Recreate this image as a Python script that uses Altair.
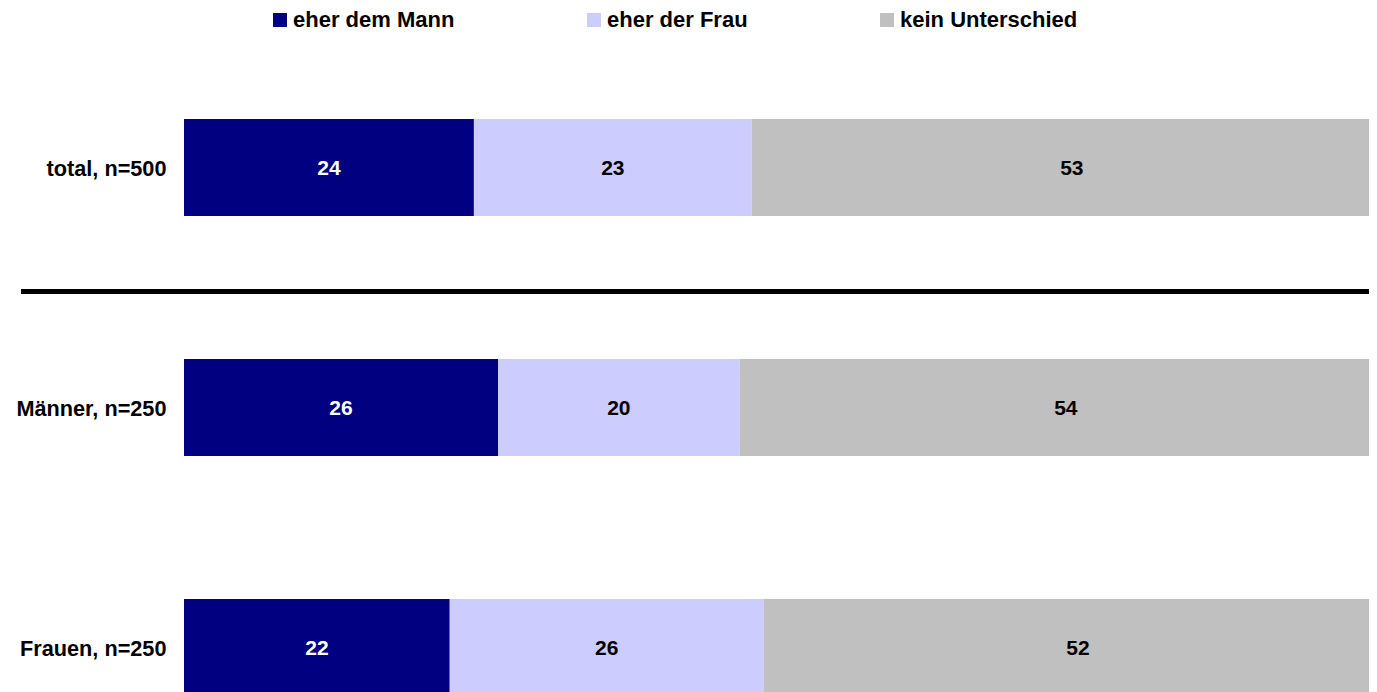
import altair as alt
import pandas as pd

groups = ["total, n=500", "Männer, n=250", "Frauen, n=250"]
categories = ["eher dem Mann", "eher der Frau", "kein Unterschied"]
colors = ["#000080", "#CCCCFF", "#C0C0C0"]
mann = [24, 26, 22]
frau = [23, 20, 26]
kein = [53, 54, 52]

rows = []
for i, g in enumerate(groups):
    for j, (c, v) in enumerate(zip(categories, [mann[i], frau[i], kein[i]])):
        rows.append({"group": g, "category": c, "value": v, "order": j})
df = pd.DataFrame(rows)

W = 1185
H = 700
TOP = 10
FONT = "Liberation Sans"

xscale = alt.Scale(domain=[0, 98.1], nice=False, zero=True)
yscale = alt.Scale(domain=groups, paddingInner=0.5958, paddingOuter=0.25625, align=0.8211)

base = alt.Chart(df).transform_stack(
    stack="value", as_=["x0", "x1"], groupby=["group"], sort=[alt.SortField("order")]
).transform_calculate(mid="(datum.x0 + datum.x1) / 2")

bars = base.mark_bar(clip=True).encode(
    x=alt.X("x0:Q", scale=xscale, axis=None),
    x2="x1:Q",
    y=alt.Y("group:N", scale=yscale, sort=groups,
            axis=alt.Axis(title=None, domain=False, ticks=False, labelPadding=18,
                          labelOffset=2,
                          labelFont=FONT, labelFontSize=21.7, labelFontWeight="bold",
                          labelColor="black", labelLimit=400)),
    color=alt.Color("category:N", scale=alt.Scale(domain=categories, range=colors),
                    legend=alt.Legend(title=None, orient="none", direction="horizontal",
                                      legendX=85, legendY=-TOP + 1, symbolType="square",
                                      symbolSize=196, symbolStrokeWidth=0, labelFont=FONT,
                                      labelFontSize=22, labelFontWeight="bold",
                                      labelColor="black", labelOffset=2, columnPadding=128,
                                      labelLimit=400)),
)

labels = base.mark_text(font=FONT, fontSize=21, fontWeight="bold", baseline="middle", dy=2).encode(
    x=alt.X("mid:Q", scale=xscale),
    y=alt.Y("group:N", scale=yscale, sort=groups),
    text="value:Q",
    color=alt.condition(alt.datum.category == "eher dem Mann", alt.value("white"), alt.value("black")),
)

sep = alt.Chart(pd.DataFrame({"sep": [1]})).mark_rule(color="black", strokeWidth=5).encode(
    x=alt.value(-163), x2=alt.value(W), y=alt.value(273.5)
)

chart = alt.layer(bars, labels, sep).properties(
    width=W, height=H,
    autosize=alt.AutoSizeParams(type="none"),
    padding={"left": 176, "top": TOP, "right": 0, "bottom": 0},
).configure_view(stroke=None)

chart.save("out.html", embed_options={"renderer": "svg", "actions": False})
